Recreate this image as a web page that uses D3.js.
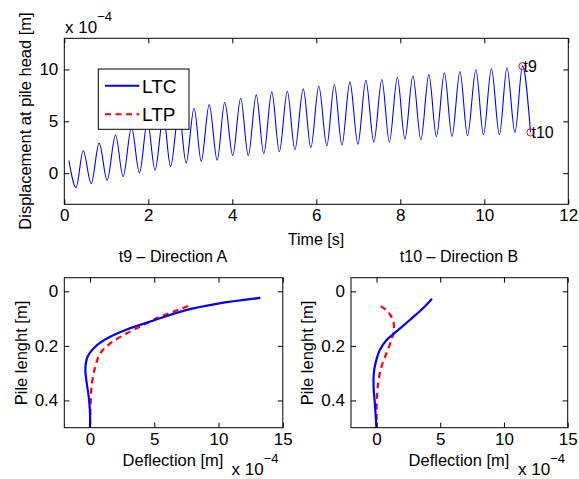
<!DOCTYPE html>
<html><head><meta charset="utf-8">
<script src="https://cdn.jsdelivr.net/npm/d3@7"></script>
<style>
body{margin:0;background:#fff;}
svg{display:block;font-family:"Liberation Sans",Arial,Helvetica,sans-serif;}
</style></head>
<body><svg id="c" width="579" height="479"></svg>
<script>
// ---- Top panel: displacement at pile head (x1e-4 m), LTC, read at extrema
const timeS = [0.11,0.28,0.45,0.64,0.83,1.02,1.22,1.40,1.60,1.79,1.98,2.16,2.36,2.53,2.73,2.90,3.09,3.26,3.45,3.64,3.82,4.01,4.20,4.38,4.57,4.75,4.94,5.12,5.31,5.49,5.69,5.87,6.06,6.25,6.43,6.61,6.80,6.99,7.18,7.37,7.56,7.74,7.93,8.11,8.30,8.49,8.68,8.86,9.05,9.23,9.42,9.60,9.80,9.98,10.17,10.36,10.54,10.73,10.91,11.10];
const dispLTC = [1.22,-1.39,2.16,-1.0,2.9,-0.68,3.68,-0.33,4.4,0.03,5.0,0.29,5.5,0.64,5.9,0.97,6.26,1.16,6.61,1.26,6.84,1.7,7.22,1.7,7.55,1.87,7.84,2.06,7.9,2.26,8.13,2.45,8.38,2.64,8.55,2.71,8.8,2.8,8.96,3.0,9.03,3.0,9.22,3.29,9.39,3.22,9.5,3.51,9.68,3.55,9.8,3.61,9.97,3.7,10.07,3.7,10.16,3.93,10.32,3.93];
const markerNames = ["t9","t10"];
const markerTime = [10.91,11.10];
const markerDisp = [10.32,3.93];
const topXTicks = [0,2,4,6,8,10,12];
const topYTicks = [0,5,10];

// ---- Bottom panels: deflection profiles (x1e-4 m) vs pile length (m)
const depthA_LTC = [0.024,0.045,0.070,0.106,0.140,0.173,0.203,0.240,0.282,0.325,0.386,0.447,0.500];
const deflA_LTC  = [13.25,9.95,7.4,5.0,2.86,1.31,0.41,-0.19,-0.36,-0.29,-0.10,0.0,0.0];
const depthA_LTP = [0.054,0.075,0.096,0.124,0.154,0.191,0.227,0.276,0.337,0.410,0.500];
const deflA_LTP  = [7.63,6.47,5.3,4.15,2.86,1.57,0.80,0.41,0.15,0.05,0.0];
const depthB_LTC = [0.027,0.063,0.106,0.148,0.179,0.215,0.258,0.300,0.349,0.410,0.500];
const deflB_LTC  = [4.35,3.63,2.59,1.55,0.78,0.26,-0.05,-0.21,-0.23,-0.13,0.0];
const depthB_LTP = [0.054,0.075,0.106,0.142,0.179,0.227,0.276,0.337,0.410,0.500];
const deflB_LTP  = [0.33,0.90,1.29,1.37,1.17,0.78,0.39,0.13,0.02,0.0];
const botXTicks = [0,5,10,15];
const botYTicks = [0,0.2,0.4];
const seriesNames = ["LTC","LTP"];
const seriesColors = ["#0000ff","#ff0000"];

const svg = d3.select("#c");
const FS = 17;

function frame(g, x, y, xt, yt, xfmt, yfmt){
  const [x0,x1] = x.range(), [y0,y1] = y.range();
  const top = Math.min(y0,y1), bot = Math.max(y0,y1);
  g.append("g").attr("transform",`translate(0,${bot})`)
    .call(d3.axisBottom(x).tickValues(xt).tickSizeInner(-5).tickSizeOuter(0).tickPadding(5).tickFormat(xfmt))
    .call(a=>a.select(".domain").remove());
  g.append("g").attr("transform",`translate(0,${top})`)
    .call(d3.axisTop(x).tickValues(xt).tickSizeInner(-5).tickSizeOuter(0).tickFormat(""))
    .call(a=>a.select(".domain").remove());
  g.append("g").attr("transform",`translate(${x0},0)`)
    .call(d3.axisLeft(y).tickValues(yt).tickSizeInner(-5).tickSizeOuter(0).tickPadding(6).tickFormat(yfmt))
    .call(a=>a.select(".domain").remove());
  g.append("g").attr("transform",`translate(${x1},0)`)
    .call(d3.axisRight(y).tickValues(yt).tickSizeInner(-5).tickSizeOuter(0).tickFormat(""))
    .call(a=>a.select(".domain").remove());
  g.selectAll(".tick text").attr("font-size",FS).attr("font-family","Liberation Sans, Arial, sans-serif").attr("fill","#000");
  g.selectAll(".tick line").attr("stroke","#000");
  g.append("rect").attr("x",x0).attr("y",top).attr("width",x1-x0).attr("height",bot-top)
    .attr("fill","none").attr("stroke","#000").attr("stroke-width",1);
}

function expo(g, x, y){
  const t = g.append("text").attr("x",x).attr("y",y).attr("font-size",FS);
  t.append("tspan").text("x 10");
  t.append("tspan").attr("dy",-12).attr("font-size",13).text("−4");
}

// ---------- Top panel
const xT = d3.scaleLinear().domain([0,12]).range([64.3,568.3]);
const yT = d3.scaleLinear().domain([-3,13]).range([204.3,38.3]);
const gT = svg.append("g");
svg.append("clipPath").attr("id","clipT").append("rect")
  .attr("x",64.3).attr("y",38.3).attr("width",504).attr("height",166);
const pts = timeS.map((t,i)=>[t,dispLTC[i]]);
gT.append("path").datum(pts).attr("clip-path","url(#clipT)")
  .attr("fill","none").attr("stroke",seriesColors[0]).attr("stroke-width",1.1)
  .attr("d",d3.line().x(d=>xT(d[0])).y(d=>yT(d[1])).curve(d3.curveMonotoneX));
markerNames.forEach((n,i)=>{
  gT.append("circle").attr("cx",xT(markerTime[i])).attr("cy",yT(markerDisp[i])).attr("r",3.6)
    .attr("fill","none").attr("stroke","#ff0000").attr("stroke-width",1);
  gT.append("text").attr("x",xT(markerTime[i])+1).attr("y",yT(markerDisp[i])+6)
    .attr("font-size",16).text(n);
});
frame(gT, xT, yT, topXTicks, topYTicks, d3.format("d"), d3.format("d"));
expo(gT, 65, 33);
gT.append("text").attr("x",316).attr("y",245).attr("text-anchor","middle").attr("font-size",16).text("Time [s]");
gT.append("text").attr("transform","translate(31,121) rotate(-90)").attr("text-anchor","middle")
  .attr("font-size",16.5).text("Displacement at pile head [m]");

// legend
const lg = gT.append("g");
lg.append("rect").attr("x",98.3).attr("y",69).attr("width",90.7).attr("height",60.3)
  .attr("fill","#fff").attr("stroke","#000").attr("stroke-width",1);
seriesNames.forEach((n,i)=>{
  const yy = [85.7,114.3][i];
  lg.append("line").attr("x1",105).attr("x2",139.3).attr("y1",yy).attr("y2",yy)
    .attr("stroke",seriesColors[i]).attr("stroke-width",2)
    .attr("stroke-dasharray", i===1 ? "6,4.5" : null);
  lg.append("text").attr("x",142).attr("y",yy+7).attr("font-size",19).text(n);
});

// ---------- Bottom panels
function profile(x0,x1,title,titleX,labX,expX,dA,fA,dB,fB){
  const x = d3.scaleLinear().domain([-2,15]).range([x0,x1]);
  const y = d3.scaleLinear().domain([-0.05,0.5]).range([277.7,427.7]);
  const g = svg.append("g");
  const ln = d3.line().x(d=>x(d[1])).y(d=>y(d[0])).curve(d3.curveCatmullRom);
  g.append("path").datum(dB.map((d,i)=>[d,fB[i]])).attr("fill","none")
    .attr("stroke",seriesColors[1]).attr("stroke-width",2.2).attr("stroke-dasharray","6,4.5").attr("d",ln);
  g.append("path").datum(dA.map((d,i)=>[d,fA[i]])).attr("fill","none")
    .attr("stroke",seriesColors[0]).attr("stroke-width",2.2).attr("d",ln);
  frame(g, x, y, botXTicks, botYTicks, d3.format("d"), d=> d===0 ? "0" : d3.format(".1f")(d));
  g.append("text").attr("x",titleX).attr("y",262).attr("text-anchor","middle").attr("font-size",16).text(title);
  g.append("text").attr("x",titleX).attr("y",466).attr("text-anchor","middle").attr("font-size",16.5).text("Deflection [m]");
  g.append("text").attr("transform",`translate(${labX},353) rotate(-90)`).attr("text-anchor","middle")
    .attr("font-size",16.5).text("Pile lenght [m]");
  expo(g, expX, 475);
}
profile(64.3,282.8,"t9 – Direction A",173,27,231.5,depthA_LTC,deflA_LTC,depthA_LTP,deflA_LTP);
profile(351,567.7,"t10 – Direction B",459,313,518,depthB_LTC,deflB_LTC,depthB_LTP,deflB_LTP);
</script></body></html>
